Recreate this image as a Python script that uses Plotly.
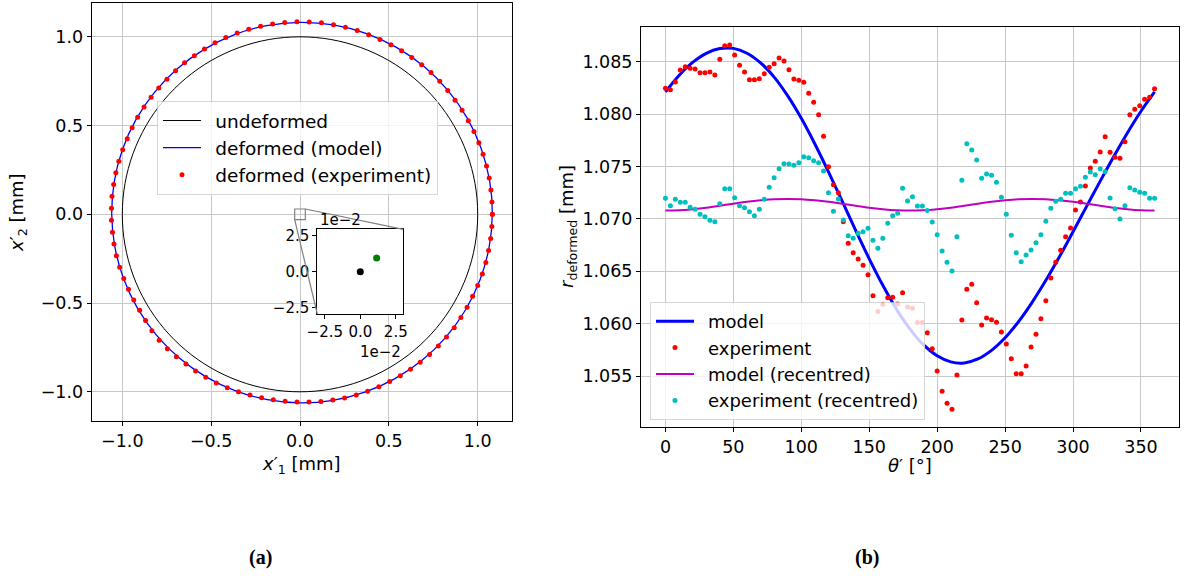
import numpy as np
import plotly.graph_objects as go

W, H = 1184, 576

# ---------------- data ----------------
# measurement angles (deg), 100 evenly spaced samples, closed loop
theta_exp = np.linspace(0.0, 360.0, 100)

r_exp = [
    1.08246, 1.08233, 1.08306, 1.08421, 1.08452, 1.08437, 1.08430, 1.08395, 1.08395, 1.08402,
    1.08373, 1.08523, 1.08653, 1.08659, 1.08564, 1.08466, 1.08402, 1.08328, 1.08328, 1.08338,
    1.08385, 1.08447, 1.08481, 1.08535, 1.08507, 1.08424, 1.08335, 1.08323, 1.08303, 1.08198,
    1.08113, 1.07994, 1.07788, 1.07498, 1.07326, 1.07250, 1.06973, 1.06767, 1.06677, 1.06617,
    1.06557, 1.06468, 1.06267, 1.06115, 1.06185, 1.06248, 1.06252, 1.06188, 1.06296, 1.06159,
    1.06147, 1.06010, 1.06010, 1.05914, 1.05761, 1.05549, 1.05355, 1.05240, 1.05183, 1.05510,
    1.06035, 1.06328, 1.06376, 1.06200, 1.05988, 1.06055, 1.06038, 1.06013, 1.05921, 1.05806,
    1.05666, 1.05523, 1.05523, 1.05596, 1.05778, 1.05899, 1.06048, 1.06219, 1.06436, 1.06586,
    1.06700, 1.06830, 1.06913, 1.07084, 1.07161, 1.07314, 1.07486, 1.07550, 1.07638, 1.07784,
    1.07635, 1.07588, 1.07578, 1.07737, 1.07994, 1.08046, 1.08080, 1.08141, 1.08160, 1.08242,
]

r_exp_recentred = [
    1.07197, 1.07126, 1.07187, 1.07158, 1.07158, 1.07111, 1.07092, 1.07044, 1.07020, 1.06987,
    1.06973, 1.07145, 1.07288, 1.07288, 1.07202, 1.07126, 1.07107, 1.07069, 1.07031, 1.07092,
    1.07187, 1.07302, 1.07393, 1.07479, 1.07527, 1.07523, 1.07511, 1.07536, 1.07593, 1.07584,
    1.07555, 1.07536, 1.07457, 1.07250, 1.07073, 1.07190, 1.06989, 1.06840, 1.06815, 1.06863,
    1.06878, 1.06910, 1.06796, 1.06719, 1.06815, 1.06958, 1.07031, 1.07053, 1.07292, 1.07170,
    1.07212, 1.07123, 1.07123, 1.07080, 1.06970, 1.06849, 1.06694, 1.06586, 1.06503, 1.06830,
    1.07368, 1.07718, 1.07657, 1.07562, 1.07387, 1.07428, 1.07416, 1.07349, 1.07206, 1.07044,
    1.06844, 1.06677, 1.06592, 1.06656, 1.06703, 1.06773, 1.06849, 1.06977, 1.07101, 1.07168,
    1.07187, 1.07244, 1.07244, 1.07288, 1.07311, 1.07397, 1.07447, 1.07422, 1.07479, 1.07450,
    1.07199, 1.07097, 1.06998, 1.07126, 1.07298, 1.07276, 1.07254, 1.07244, 1.07197, 1.07197,
]

theta_model = [0, 10, 20, 30, 40, 50, 60, 70, 80, 90, 100, 110, 120, 130, 140, 150, 160, 170, 180,
               190, 200, 210, 220, 230, 240, 250, 260, 270, 280, 290, 300, 310, 320, 330, 340, 350, 360]

r_model = [
    1.08212, 1.08369, 1.08493, 1.08580, 1.08625, 1.08627, 1.08581, 1.08489, 1.08353, 1.08174,
    1.07960, 1.07715, 1.07449, 1.07171, 1.06890, 1.06619, 1.06366, 1.06139, 1.05948, 1.05797,
    1.05693, 1.05635, 1.05625, 1.05663, 1.05745, 1.05865, 1.06021, 1.06206, 1.06414, 1.06639,
    1.06877, 1.07119, 1.07360, 1.07595, 1.07820, 1.08027, 1.08212,
]

r_model_recentred = [
    1.07079, 1.07083, 1.07093, 1.07107, 1.07125, 1.07145, 1.07163, 1.07177, 1.07187, 1.07190,
    1.07187, 1.07177, 1.07163, 1.07145, 1.07125, 1.07107, 1.07093, 1.07083, 1.07079, 1.07083,
    1.07093, 1.07107, 1.07125, 1.07145, 1.07163, 1.07177, 1.07187, 1.07190, 1.07187, 1.07177,
    1.07163, 1.07145, 1.07125, 1.07107, 1.07093, 1.07083, 1.07079,
]

r_undeformed = 1.0
centre_undeformed = [0.0, 0.0]
centre_deformed = [0.0115, 0.0096]

left_ticks = [-1.0, -0.5, 0.0, 0.5, 1.0]
right_xticks = [0, 50, 100, 150, 200, 250, 300, 350]
right_yticks = [1.055, 1.060, 1.065, 1.070, 1.075, 1.080, 1.085]
inset_ticks = [-0.025, 0.0, 0.025]
inset_ticktext = ["\u22122.5", "0.0", "2.5"]
inset_half = 0.03

# ---------------- layout geometry (px -> paper) ----------------
def px_x(p):
    return p / W

def px_y(p):
    return 1 - p / H

L_XDOM = [px_x(91.7), px_x(511.7)]
L_YDOM = [px_y(421.2), px_y(3.0)]
L_XR = [-1.1722, 1.1913]
L_YR = [-1.1656, 1.1904]

R_XDOM = [px_x(641.0), px_x(1179.0)]
R_YDOM = [px_y(427.3), px_y(26.7)]
R_XR = [-18.0, 378.0]
R_YR = [1.05011, 1.08834]

I_XDOM = [px_x(317.3), px_x(403.3)]
I_YDOM = [px_y(314.0), px_y(229.3)]
I_XR = [-inset_half * 1.01, inset_half * 1.01]
I_YR = [-inset_half * 0.987, inset_half * 0.987]

FONT = "DejaVu Sans"
TICK = 17.5
PAD = "\u2002"

tm = np.radians(np.array(theta_model, dtype=float))
te = np.radians(theta_exp)
rm = np.array(r_model)
re_ = np.array(r_exp)

fig = go.Figure()

# ---- left panel ----
fig.add_trace(go.Scatter(
    x=r_undeformed * np.cos(tm), y=r_undeformed * np.sin(tm), mode="lines",
    line=dict(color="black", width=1, shape="spline"), name=PAD + "undeformed",
    xaxis="x", yaxis="y", legend="legend"))
fig.add_trace(go.Scatter(
    x=rm * np.cos(tm), y=rm * np.sin(tm), mode="lines",
    line=dict(color="#0000ff", width=1.3, shape="spline"), name=PAD + "deformed (model)",
    xaxis="x", yaxis="y", legend="legend"))
fig.add_trace(go.Scatter(
    x=re_ * np.cos(te), y=re_ * np.sin(te), mode="markers",
    marker=dict(color="#ff0000", size=5), name=PAD + "deformed (experiment)",
    xaxis="x", yaxis="y", legend="legend"))

# ---- right panel ----
fig.add_trace(go.Scatter(
    x=theta_model, y=r_model, mode="lines",
    line=dict(color="#0000ff", width=3, shape="spline"), name=PAD + "model",
    xaxis="x2", yaxis="y2", legend="legend2"))
fig.add_trace(go.Scatter(
    x=theta_exp, y=r_exp, mode="markers",
    marker=dict(color="#ff0000", size=5), name=PAD + "experiment",
    xaxis="x2", yaxis="y2", legend="legend2"))
fig.add_trace(go.Scatter(
    x=theta_model, y=r_model_recentred, mode="lines",
    line=dict(color="#bf00bf", width=2, shape="spline"), name=PAD + "model (recentred)",
    xaxis="x2", yaxis="y2", legend="legend2"))
fig.add_trace(go.Scatter(
    x=theta_exp, y=r_exp_recentred, mode="markers",
    marker=dict(color="#00bfbf", size=5), name=PAD + "experiment (recentred)",
    xaxis="x2", yaxis="y2", legend="legend2"))

# ---- inset ----
fig.add_trace(go.Scatter(
    x=[centre_undeformed[0]], y=[centre_undeformed[1]], mode="markers",
    marker=dict(color="black", size=7), showlegend=False, xaxis="x3", yaxis="y3"))
fig.add_trace(go.Scatter(
    x=[centre_deformed[0]], y=[centre_deformed[1]], mode="markers",
    marker=dict(color="#008000", size=7), showlegend=False, xaxis="x3", yaxis="y3"))

axis_common = dict(
    showline=True, linecolor="black", linewidth=1, mirror=True,
    ticks="outside", ticklen=4, tickwidth=1, tickcolor="black",
    showgrid=True, gridcolor="#c8c8c8", gridwidth=1, zeroline=False,
    tickfont=dict(family=FONT, size=TICK, color="black"), automargin=False,
)
inset_axis = dict(
    showline=True, linecolor="black", linewidth=1, mirror=True, ticks="outside",
    ticklen=4, tickcolor="black", showgrid=False, zeroline=False, automargin=False,
    tickfont=dict(family=FONT, size=15, color="black"),
)

fig.update_layout(
    width=W, height=H, margin=dict(l=0, r=0, t=0, b=0, pad=0, autoexpand=False),
    paper_bgcolor="white", plot_bgcolor="white",
    xaxis=dict(domain=L_XDOM, range=L_XR, anchor="y", tickvals=left_ticks,
               tickformat=".1f", **axis_common),
    yaxis=dict(domain=L_YDOM, range=L_YR, anchor="x", tickvals=left_ticks,
               tickformat=".1f", **axis_common),
    xaxis2=dict(domain=R_XDOM, range=R_XR, anchor="y2", tickvals=right_xticks,
                **axis_common),
    yaxis2=dict(domain=R_YDOM, range=R_YR, anchor="x2", tickvals=right_yticks,
                tickformat=".3f", **axis_common),
    xaxis3=dict(domain=I_XDOM, range=I_XR, anchor="y3", tickvals=inset_ticks,
                ticktext=inset_ticktext, **inset_axis),
    yaxis3=dict(domain=I_YDOM, range=I_YR, anchor="x3", tickvals=inset_ticks,
                ticktext=inset_ticktext, **inset_axis),
    legend=dict(x=px_x(157), y=px_y(101), xanchor="left", yanchor="top",
                bgcolor="rgba(255,255,255,0.8)", bordercolor="rgba(204,204,204,0.8)",
                borderwidth=1, font=dict(family=FONT, size=18.5, color="black"),
                itemwidth=38),
    legend2=dict(x=px_x(650), y=px_y(302), xanchor="left", yanchor="top",
                 bgcolor="rgba(255,255,255,0.8)", bordercolor="rgba(204,204,204,0.8)",
                 borderwidth=1, font=dict(family=FONT, size=18, color="black"),
                 itemwidth=38),
)

# inset white background, zoom box and connectors (in left-panel data units)
def paper_to_data(p, dom, rng):
    return rng[0] + (p - dom[0]) / (dom[1] - dom[0]) * (rng[1] - rng[0])

ins_x0 = paper_to_data(I_XDOM[0], L_XDOM, L_XR)
ins_x1 = paper_to_data(I_XDOM[1], L_XDOM, L_XR)
ins_y0 = paper_to_data(I_YDOM[0], L_YDOM, L_YR)
ins_y1 = paper_to_data(I_YDOM[1], L_YDOM, L_YR)

shapes = [
    dict(type="rect", xref="x", yref="y", x0=ins_x0, x1=ins_x1, y0=ins_y0, y1=ins_y1,
         fillcolor="white", line=dict(width=0), layer="between"),
    dict(type="rect", xref="x", yref="y", x0=-inset_half, x1=inset_half,
         y0=-inset_half, y1=inset_half, line=dict(color="#808080", width=1.2)),
    dict(type="line", xref="x", yref="y", x0=inset_half, y0=inset_half,
         x1=ins_x1, y1=ins_y1, line=dict(color="#808080", width=1.2)),
    dict(type="line", xref="x", yref="y", x0=-inset_half, y0=-inset_half,
         x1=ins_x0, y1=ins_y0, line=dict(color="#808080", width=1.2)),
]
fig.update_layout(shapes=shapes)

ann = []
def add_ann(text, x, y, size=18, angle=0, xanchor="center", yanchor="middle", family=FONT):
    ann.append(dict(text=text, x=px_x(x), y=px_y(y), xref="paper", yref="paper",
                    showarrow=False, textangle=angle, xanchor=xanchor, yanchor=yanchor,
                    font=dict(family=family, size=size, color="black")))

add_ann("<i>x</i>\u2032<sub>1</sub> [mm]", 301, 465, 18)
add_ann("<i>x</i>\u2032<sub>2</sub> [mm]", 18, 213, 18, angle=-90)
add_ann("<i>\u03b8</i>\u2032 [°]", 910, 465, 18)
add_ann("<i>r</i><sub>deformed</sub> [mm]", 568, 227, 18, angle=-90)
add_ann("1e\u22122", 318, 220, 15, xanchor="left")
add_ann("1e\u22122", 403, 352, 15, xanchor="right")
add_ann("<b>(a)</b>", 260, 557, 20, family="Liberation Serif")
add_ann("<b>(b)</b>", 867, 557, 20, family="Liberation Serif")
fig.update_layout(annotations=ann)

fig.write_html("out.html")
